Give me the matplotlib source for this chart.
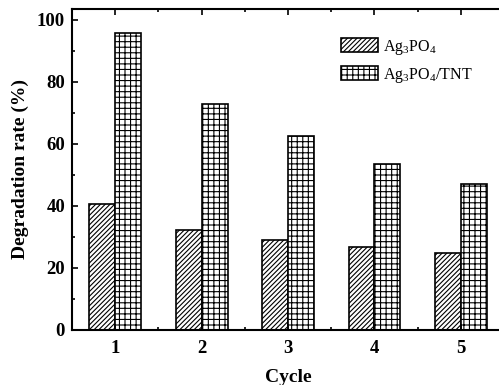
import matplotlib
matplotlib.use("Agg")
import matplotlib.pyplot as plt
import numpy as np
from matplotlib.ticker import MultipleLocator

plt.rcParams["font.family"] = ["Liberation Serif", "DejaVu Serif"]
plt.rcParams["mathtext.fontset"] = "custom"
plt.rcParams["mathtext.rm"] = "Liberation Serif"
plt.rcParams["mathtext.it"] = "Liberation Serif:italic"
plt.rcParams["hatch.linewidth"] = 0.8

cycles = [1, 2, 3, 4, 5]
ag3po4 = [40.5, 32.3, 29.0, 26.7, 24.9]
ag3po4_tnt = [95.9, 73.0, 62.4, 53.4, 47.1]
series_labels = ["Ag$_3$PO$_4$", "Ag$_3$PO$_4$/TNT"]

fig = plt.figure(figsize=(4.99, 3.85), dpi=100)
ax = fig.add_axes([0.1443, 0.1429, 0.866, 0.8338])

x = np.array(cycles)
w = 0.3
ax.bar(x - w / 2, ag3po4, w, color="white", edgecolor="black", hatch="///////",
       linewidth=1.2, label=series_labels[0])
ax.bar(x + w / 2, ag3po4_tnt, w, color="white", edgecolor="black", hatch="+++",
       linewidth=1.2, label=series_labels[1])

ax.set_xlim(0.5, 5.5)
ax.set_ylim(0, 103.5)
ax.set_xticks(cycles)
ax.xaxis.set_minor_locator(MultipleLocator(0.5))
ax.yaxis.set_major_locator(MultipleLocator(20))
ax.yaxis.set_minor_locator(MultipleLocator(10))
ax.tick_params(which="both", direction="in", top=True, right=False,
               width=1.2, labelsize=13.5)
ax.tick_params(which="major", length=4)
ax.tick_params(which="minor", length=2.5)
ax.tick_params(axis="x", pad=7)
ax.tick_params(axis="y", pad=5)
for lab in ax.get_xticklabels() + ax.get_yticklabels():
    lab.set_fontweight("bold")
for s in ["left", "bottom", "top"]:
    ax.spines[s].set_linewidth(1.5)
ax.spines["right"].set_visible(False)

ax.set_xlabel("Cycle", fontsize=14, fontweight="bold", labelpad=9)
ax.set_ylabel("Degradation rate (%)", fontsize=14, fontweight="bold", labelpad=6)

ax.legend(loc="upper left", bbox_to_anchor=(0.59, 0.955), frameon=False,
          fontsize=11.5, handlelength=2.3, handleheight=1.0, handletextpad=0.3,
          labelspacing=0.55)

fig.savefig("out.png", dpi=100)
plt.close(fig)
